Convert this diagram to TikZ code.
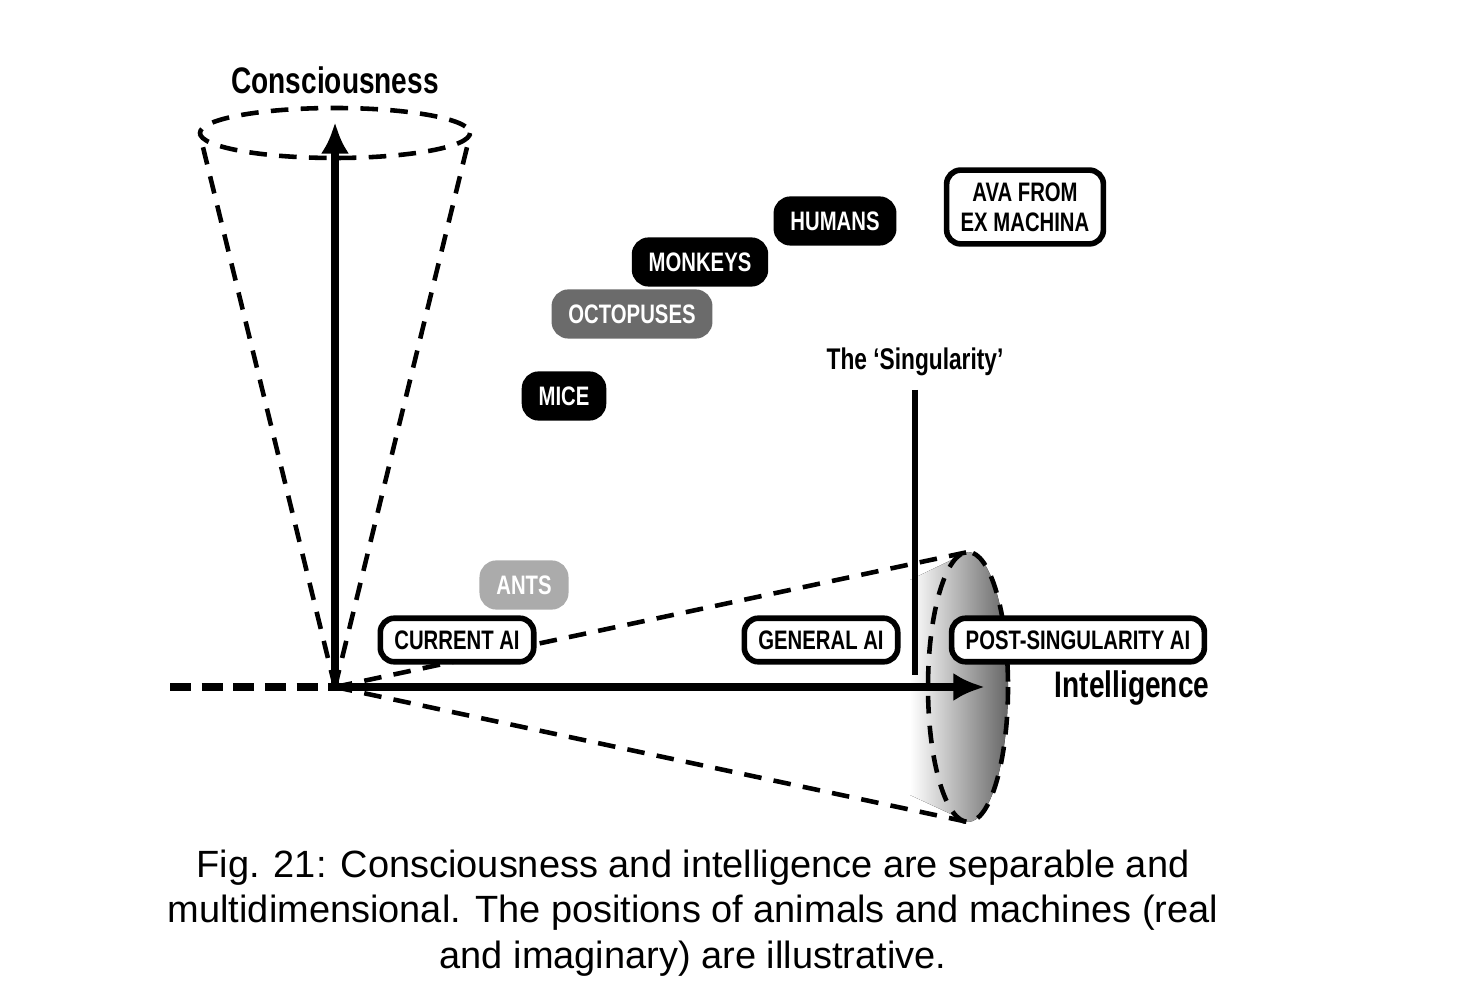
\documentclass[tikz,border=0pt]{standalone}
\usepackage{fontspec}
\setmainfont{Liberation Sans}
\newfontfamily\cond[FakeStretch=0.76]{Liberation Sans Bold}
\usetikzlibrary{arrows.meta}
\begin{document}
\begin{tikzpicture}[x=0.01cm,y=-0.01cm,
 lab/.style={rounded corners=4pt,line width=1.6pt,draw=black,font=\cond\fontsize{7.6}{8.6}\selectfont,inner xsep=4pt,inner ysep=3.5pt,align=center},
 blk/.style={lab,fill=black,text=white},
 wht/.style={lab,fill=white,text=black},
 dsh/.style={line width=1.3pt,dash pattern=on 5pt off 3.5pt},
 arr/.style={line width=2.2pt,-{Latex[length=9pt,width=8pt]}}]
\useasboundingbox (0,0) rectangle (1480,1007);
\coordinate (O) at (335,687);
\coordinate (L) at (170,687);
% right cone shading
\fill[left color=white,right color=black!60] (910,580) -- (968,552) arc[start angle=-90,end angle=90,x radius=40,y radius=135] -- (910,795) -- cycle;
\draw[dsh] (O) -- (968,552);
\draw[dsh] (O) -- (968,822);
\draw[dsh] (968,687) ellipse[x radius=40,y radius=135];
% top cone
\draw[dsh] (O) -- (200,135);
\draw[dsh] (O) -- (470,135);
\draw[dsh] (335,133) ellipse[x radius=135,y radius=25];
\draw[line width=2.5pt,dash pattern=on 6pt off 3pt] (L) -- (O);
\coordinate (T) at (335,122);
\coordinate (R) at (985,687);
\draw[arr] (O) -- (T);
\draw[arr] (O) -- (R);
\coordinate (S1) at (915,390);
\coordinate (S2) at (915,675);
\draw[line width=1.6pt] (S1) -- (S2);
\node[font=\cond\fontsize{10.5}{12}\selectfont] (cons) at (335,80) {Consciousness};
\node[font=\cond\fontsize{10.5}{12}\selectfont] (int) at (1132,688) {Intelligence};
\node[font=\cond\fontsize{8.5}{10}\selectfont] (sing) at (915,362) {The ‘Singularity’};
\node[blk] (hum) at (835,221) {HUMANS};
\node[wht] (ava) at (1025,207) {AVA FROM\\EX MACHINA};
\node[blk] (mon) at (700,262) {MONKEYS};
\node[lab,fill=black!58,draw=black!58,text=white] (oct) at (632,314) {OCTOPUSES};
\node[blk] (mice) at (564,396) {MICE};
\node[lab,fill=black!33,draw=black!33,text=white] (ants) at (524,585) {ANTS};
\node[wht] (cur) at (457,640) {CURRENT AI};
\node[wht] (gen) at (821,640) {GENERAL AI};
\node[wht] (post) at (1078,640) {POST-SINGULARITY AI};
\node[font=\fontsize{10.8}{12.9}\selectfont,align=center] (cap) at (693,913) {Fig. 21: Consciousness and intelligence are separable and\\multidimensional. The positions of animals and machines (real\\and imaginary) are illustrative.};
\end{tikzpicture}
\end{document}
